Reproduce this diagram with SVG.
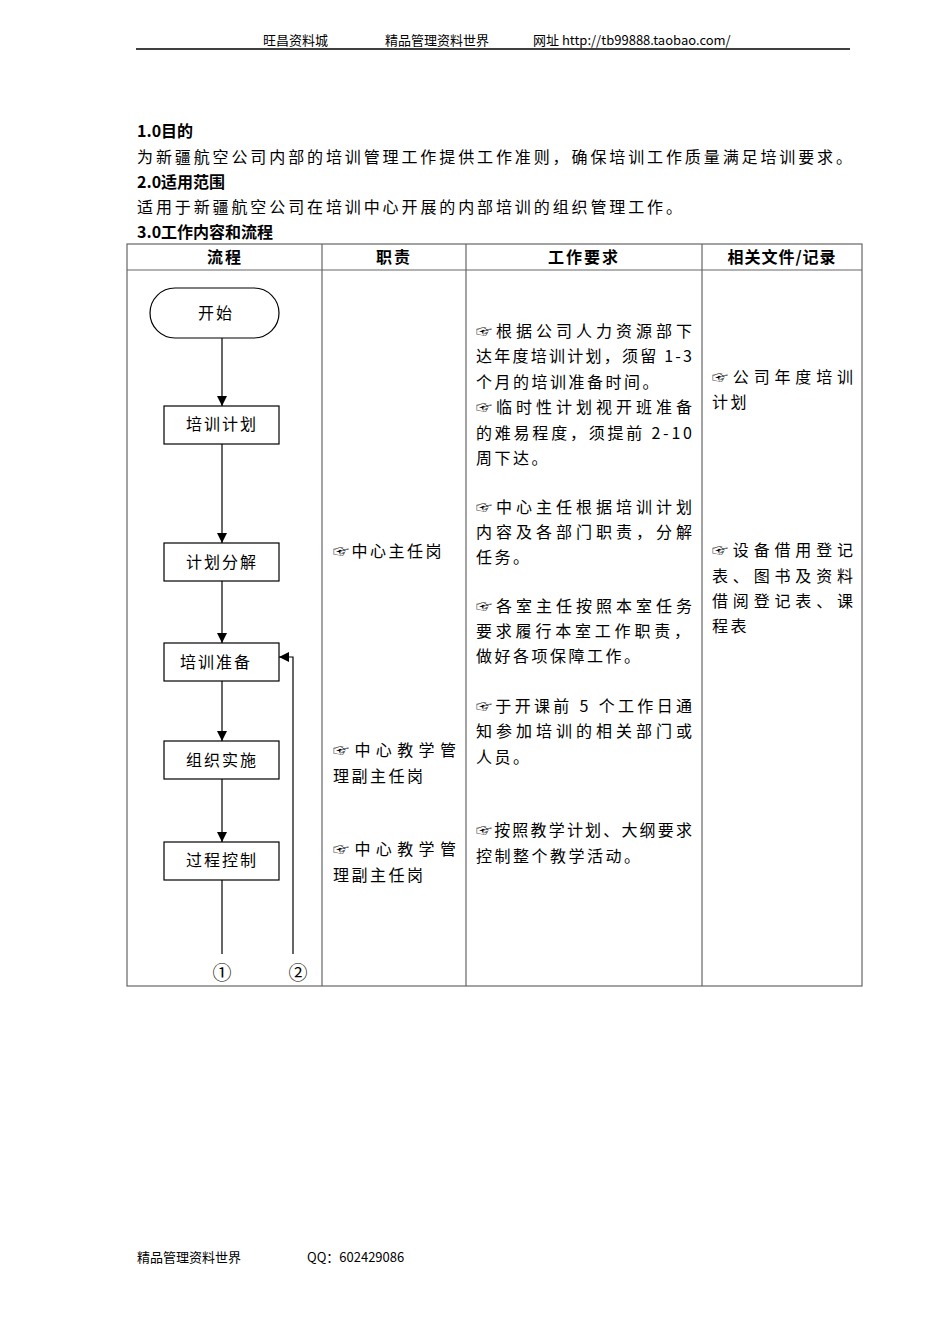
<svg xmlns="http://www.w3.org/2000/svg" width="950" height="1344" viewBox="0 0 950 1344">
<style>
text{font-family:"Noto Sans CJK SC","Liberation Serif",serif;fill:#000}
.hd{font-size:13px}
.h{font-size:16px;font-weight:bold}
.b{font-size:16px;letter-spacing:2.5px}
.t{font-size:16px}
.n{font-size:16px;text-anchor:middle;letter-spacing:2px}
.c{font-size:19px;text-anchor:middle;font-family:"Noto Sans CJK SC","DejaVu Sans",sans-serif}
.grid{stroke:#666;stroke-width:1.2;fill:none}
.box{fill:#fff;stroke:#000;stroke-width:1.2}
.ln{stroke:#000;stroke-width:1.2;fill:none}
</style>
<defs>
<marker id="ah" viewBox="0 0 10 10" refX="10" refY="5" markerWidth="10" markerHeight="10" markerUnits="userSpaceOnUse" orient="auto">
<path d="M0,0 L10,5 L0,10 z" fill="#000"/>
</marker>
</defs>
<rect width="950" height="1344" fill="#fff"/>
<g id="header">
<text class="hd" x="263" y="45">旺昌资料城</text>
<text class="hd" x="385" y="45">精品管理资料世界</text>
<text class="hd" x="533" y="45">网址  http://tb99888.taobao.com/</text>
<line x1="136" y1="49" x2="850" y2="49" stroke="#000" stroke-width="1.5"/>
</g>
<g id="intro">
<text class="h" x="137" y="137">1.0目的</text>
<text class="t" x="137" y="163" textLength="715" lengthAdjust="spacing">为新疆航空公司内部的培训管理工作提供工作准则，确保培训工作质量满足培训要求。</text>
<text class="h" x="137" y="188">2.0适用范围</text>
<text class="t" x="137" y="213" textLength="545" lengthAdjust="spacing">适用于新疆航空公司在培训中心开展的内部培训的组织管理工作。</text>
<text class="h" x="137" y="238">3.0工作内容和流程</text>
</g>
<g id="table">
<rect class="grid" x="127" y="244" width="735" height="742"/>
<line class="grid" x1="127" y1="270" x2="862" y2="270"/>
<line class="grid" x1="322" y1="244" x2="322" y2="986"/>
<line class="grid" x1="466" y1="244" x2="466" y2="986"/>
<line class="grid" x1="702" y1="244" x2="702" y2="986"/>
<text class="h" x="225" y="263" text-anchor="middle" letter-spacing="2">流程</text>
<text class="h" x="394" y="263" text-anchor="middle" letter-spacing="2">职责</text>
<text class="h" x="584" y="263" text-anchor="middle" letter-spacing="2">工作要求</text>
<text class="h" x="782" y="263" text-anchor="middle" letter-spacing="1">相关文件/记录</text>
</g>
<g id="connectors">
<line class="ln" x1="222" y1="338" x2="222" y2="406" marker-end="url(#ah)"/>
<line class="ln" x1="222" y1="444" x2="222" y2="543" marker-end="url(#ah)"/>
<line class="ln" x1="222" y1="581" x2="222" y2="643" marker-end="url(#ah)"/>
<line class="ln" x1="222" y1="681" x2="222" y2="741" marker-end="url(#ah)"/>
<line class="ln" x1="222" y1="779" x2="222" y2="842" marker-end="url(#ah)"/>
<line class="ln" x1="222" y1="880" x2="222" y2="954"/>
<polyline class="ln" points="293,954 293,657 279,657" marker-end="url(#ah)"/>
<text class="c" x="222" y="980">①</text>
<text class="c" x="298" y="980">②</text>
</g>
<g id="start">
<rect class="box" x="150" y="288" width="129" height="50" rx="25" ry="25"/>
<text class="n" x="216" y="319">开始</text>
</g>
<g id="plan">
<rect class="box" x="164" y="406" width="115" height="38"/>
<text class="n" x="222" y="430">培训计划</text>
</g>
<g id="decompose">
<rect class="box" x="164" y="543" width="115" height="38"/>
<text class="n" x="222" y="568">计划分解</text>
</g>
<g id="prepare">
<rect class="box" x="164" y="643" width="115" height="38"/>
<text class="n" x="216" y="668">培训准备</text>
</g>
<g id="implement">
<rect class="box" x="164" y="741" width="115" height="38"/>
<text class="n" x="222" y="766">组织实施</text>
</g>
<g id="control">
<rect class="box" x="164" y="842" width="115" height="38"/>
<text class="n" x="222" y="866">过程控制</text>
</g>
<g id="duties">
<text class="b" x="333" y="557">☞中心主任岗</text>
<text class="t" x="333" y="756" textLength="123" lengthAdjust="spacing">☞中心教学管</text>
<text class="b" x="333" y="782">理副主任岗</text>
<text class="t" x="333" y="855" textLength="123" lengthAdjust="spacing">☞中心教学管</text>
<text class="b" x="333" y="881">理副主任岗</text>
</g>
<g id="requirements">
<text class="t" x="476" y="337" textLength="216" lengthAdjust="spacing">☞根据公司人力资源部下</text>
<text class="t" x="476" y="362" textLength="216" lengthAdjust="spacing">达年度培训计划，须留 1-3</text>
<text class="b" x="476" y="388">个月的培训准备时间。</text>
<text class="t" x="476" y="413" textLength="216" lengthAdjust="spacing">☞临时性计划视开班准备</text>
<text class="t" x="476" y="439" textLength="216" lengthAdjust="spacing">的难易程度，须提前 2-10</text>
<text class="b" x="476" y="464">周下达。</text>
<text class="t" x="476" y="513" textLength="216" lengthAdjust="spacing">☞中心主任根据培训计划</text>
<text class="t" x="476" y="538" textLength="216" lengthAdjust="spacing">内容及各部门职责，分解</text>
<text class="b" x="476" y="563">任务。</text>
<text class="t" x="476" y="612" textLength="216" lengthAdjust="spacing">☞各室主任按照本室任务</text>
<text class="t" x="476" y="637" textLength="214" lengthAdjust="spacing">要求履行本室工作职责，</text>
<text class="b" x="476" y="662">做好各项保障工作。</text>
<text class="t" x="476" y="712" textLength="216" lengthAdjust="spacing">☞于开课前 5 个工作日通</text>
<text class="t" x="476" y="737" textLength="216" lengthAdjust="spacing">知参加培训的相关部门或</text>
<text class="b" x="476" y="763">人员。</text>
<text class="t" x="476" y="836" textLength="216" lengthAdjust="spacing">☞按照教学计划、大纲要求</text>
<text class="b" x="476" y="862">控制整个教学活动。</text>
</g>
<g id="records">
<text class="t" x="712" y="383" textLength="141" lengthAdjust="spacing">☞公司年度培训</text>
<text class="b" x="712" y="408">计划</text>
<text class="t" x="712" y="556" textLength="141" lengthAdjust="spacing">☞设备借用登记</text>
<text class="t" x="712" y="582" textLength="141" lengthAdjust="spacing">表、图书及资料</text>
<text class="t" x="712" y="607" textLength="141" lengthAdjust="spacing">借阅登记表、课</text>
<text class="b" x="712" y="632">程表</text>
</g>
<g id="footer">
<text class="hd" x="137" y="1262">精品管理资料世界</text>
<text class="hd" x="307" y="1262">QQ：602429086</text>
</g>
</svg>
